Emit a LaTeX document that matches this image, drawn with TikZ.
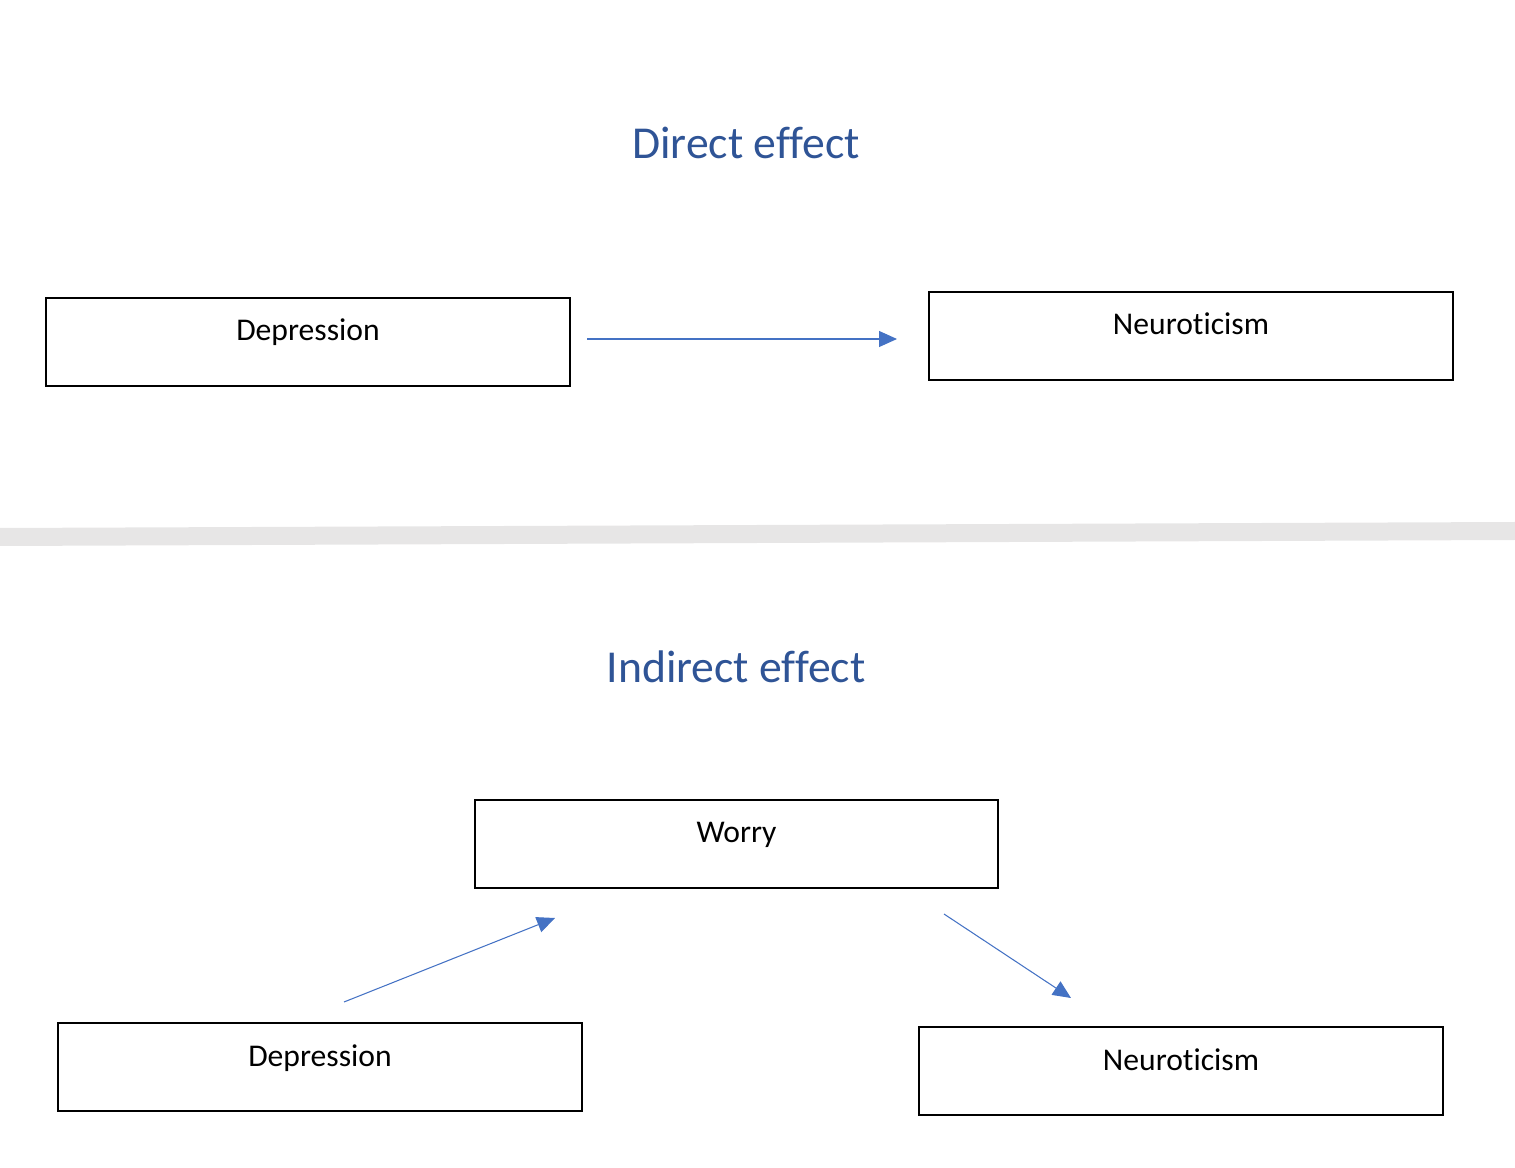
\documentclass[tikz,border=0pt]{standalone}
\usepackage{xcolor}
\usepackage{fontspec}
\setmainfont{Carlito}[Ligatures=NoCommon]
\usetikzlibrary{arrows.meta}
\definecolor{heading}{RGB}{47,84,150}
\definecolor{effect}{RGB}{68,114,196}
\definecolor{divider}{RGB}{231,230,230}
\tikzstyle{box}=[draw, line width=1.1pt, inner sep=0pt, minimum width=10.48cm, text height=0.86cm, text depth=0.9cm, font=\fontsize{18}{20}\selectfont]
\tikzstyle{title}=[text=heading, font=\fontsize{26}{30}\selectfont]
\tikzset{path/.style={-{Triangle[length=0.36cm,width=0.32cm]}, line width=0.6pt, color=effect}}

\begin{document}
\begin{tikzpicture}[x=0.02cm,y=-0.02cm]
  \useasboundingbox (0,0) rectangle (1515,1168);
  %% Direct effect
  \draw (746,143) node[title] (T1) {Direct effect};
  \draw (308,342) node[box] (D1) {Depression};
  \draw (1191,336) node[box] (N1) {Neuroticism};
  \coordinate (D1out) at (587,339);
  \coordinate (N1in) at (897,339);
  \draw[path] (D1out) -- (N1in);

  %% Divider
  \fill[divider] (0,528) -- (1515,522) -- (1515,540) -- (0,546) -- cycle;

  %% Indirect effect
  \draw (736,667) node[title] (T2) {Indirect effect};
  \draw (736.5,844) node[box] (W2) {Worry};
  \draw (320,1067) node[box] (D2) {Depression};
  \draw (1181,1071) node[box] (N2) {Neuroticism};
  \coordinate (D2out) at (344,1002);
  \coordinate (W2in) at (555,918);
  \coordinate (W2out) at (944,914);
  \coordinate (N2in) at (1071,998);
  \draw[path] (D2out) -- (W2in);
  \draw[path] (W2out) -- (N2in);
\end{tikzpicture}
\end{document}
